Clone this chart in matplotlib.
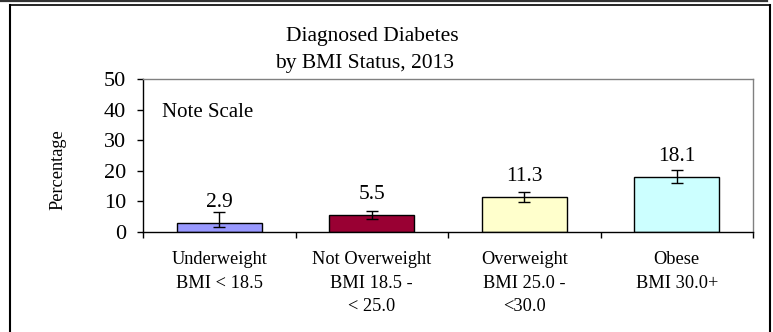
import matplotlib
matplotlib.use("Agg")
import matplotlib.pyplot as plt
from matplotlib.lines import Line2D

plt.rcParams["font.family"] = ["Liberation Serif", "DejaVu Serif"]

categories = ["Underweight\nBMI < 18.5", "Not Overweight\nBMI 18.5 -\n< 25.0",
              "Overweight\nBMI 25.0 -\n<30.0", "Obese\nBMI 30.0+"]
values = [2.9, 5.5, 11.3, 18.1]
err_low = [1.7, 4.2, 9.9, 16.1]
err_high = [6.4, 6.9, 13.0, 20.2]
colors = ["#9999FF", "#990033", "#FFFFCC", "#CCFFFF"]
yticks = [0, 10, 20, 30, 40, 50]

fig = plt.figure(figsize=(7.73, 3.32), dpi=100)
ax = fig.add_axes([143 / 773, 1 - 232 / 332, 610 / 773, 153 / 332])

x = list(range(len(values)))
yerr = [[v - lo for v, lo in zip(values, err_low)],
        [hi - v for v, hi in zip(values, err_high)]]
ax.bar(x, values, width=0.56, color=colors, edgecolor="black", linewidth=1)
ax.errorbar(x, values, yerr=yerr, fmt="none", ecolor="black", elinewidth=1,
            capsize=4.3, capthick=1)

for xi, v in zip(x, values):
    ax.annotate(f"{v:.1f}", (xi, v), xytext=(0, 16), textcoords="offset pixels",
                ha="center", va="baseline", fontsize=15.5)

ax.set_xlim(-0.5, 3.5)
ax.set_ylim(0, 50)
ax.set_yticks(yticks)
ax.tick_params(axis="y", direction="out", length=4.3, width=1, pad=8, labelsize=16)
ax.set_xticks(x)
ax.set_xticklabels(categories, fontsize=13.2, linespacing=1.47)
ax.tick_params(axis="x", which="major", length=0, pad=14)
ax.set_xticks([-0.5, 0.5, 1.5, 2.5, 3.5], minor=True)
ax.tick_params(axis="x", which="minor", direction="out", length=4.3, width=1)

for s in ["left", "bottom"]:
    ax.spines[s].set_color("black")
    ax.spines[s].set_linewidth(1)
for s in ["top", "right"]:
    ax.spines[s].set_color("#808080")
    ax.spines[s].set_linewidth(1)

ax.text(0.031, 0.784, "Note Scale", transform=ax.transAxes, fontsize=15,
        va="center", ha="left")

fig.text(372.5 / 773, 1 - 40.7 / 332, "Diagnosed Diabetes", ha="center",
         va="baseline", fontsize=15.5)
fig.text(365 / 773, 1 - 68 / 332, "by BMI Status, 2013", ha="center",
         va="baseline", fontsize=15.5)
fig.text(58 / 773, 1 - 170 / 332, "Percentage", rotation=90, ha="center",
         va="center", fontsize=13.2)

# outer frame
W, H = 773, 332
fig.add_artist(Line2D([0, 767 / W], [1 - 1 / H, 1 - 1 / H], color="#333333", lw=1.6,
                      transform=fig.transFigure))
fig.add_artist(Line2D([9.5 / W, 769.5 / W], [1 - 4.5 / H, 1 - 4.5 / H], color="black",
                      lw=1.2, transform=fig.transFigure))
fig.add_artist(Line2D([9.5 / W, 9.5 / W], [0, 1 - 4.5 / H], color="black", lw=1.5,
                      transform=fig.transFigure))
fig.add_artist(Line2D([769.5 / W, 769.5 / W], [0, 1 - 4.5 / H], color="black", lw=1.5,
                      transform=fig.transFigure))

fig.savefig("out.png", dpi=100)
